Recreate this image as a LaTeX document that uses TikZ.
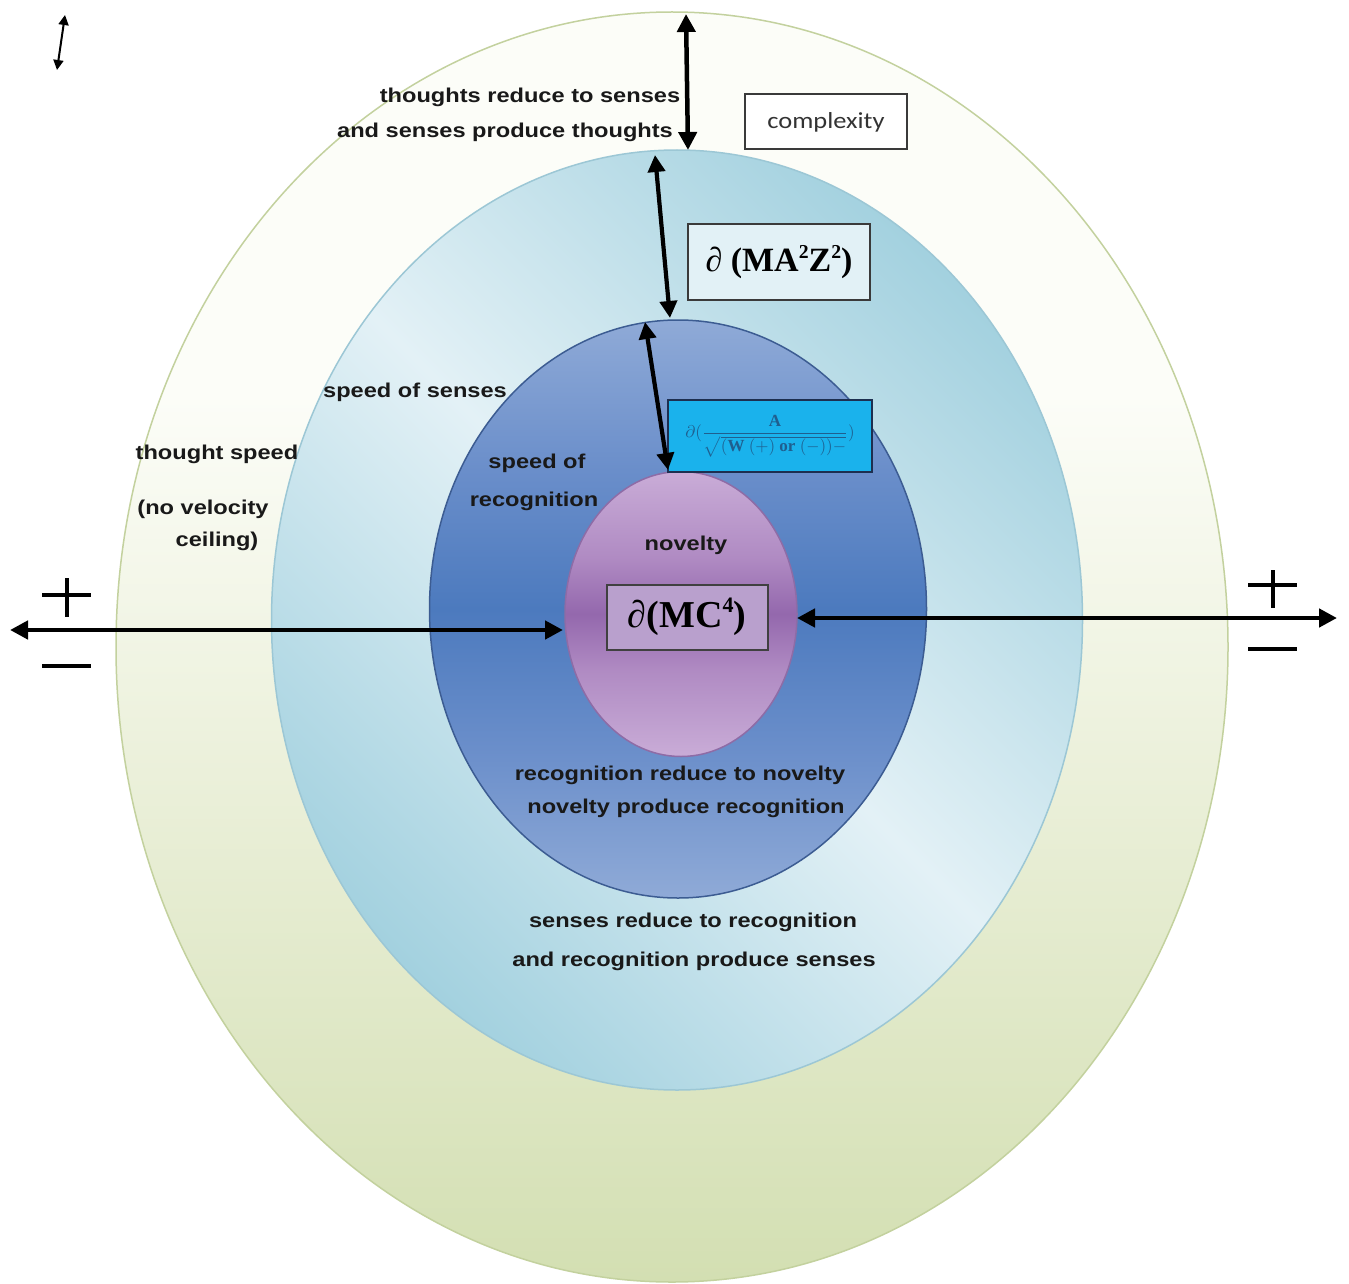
\documentclass[tikz,border=0pt]{standalone}
\usepackage{fontspec}
\setmainfont{Liberation Serif}
\newfontfamily\labfont[FakeStretch=1.18]{Liberation Sans}
\newfontfamily\cplxfont[FakeStretch=1.15]{Carlito}
\usetikzlibrary{shapes.geometric,arrows.meta}
\newcommand\mysup[1]{\raisebox{0.40em}{\scalebox{0.58}{#1}}}
\definecolor{og}{HTML}{D3DFB2}
\definecolor{om}{HTML}{EBF0DA}
\definecolor{ow}{HTML}{FCFDF8}
\definecolor{oline}{HTML}{C3D19E}
\definecolor{lbdark}{HTML}{A3D1DF}
\definecolor{lbpale}{HTML}{E3F1F6}
\definecolor{lbline}{HTML}{9CC7D5}
\definecolor{blight}{HTML}{8FAAD7}
\definecolor{bmid}{HTML}{6A8ECA}
\definecolor{bdark}{HTML}{4C7ABE}
\definecolor{bline}{HTML}{3C5C92}
\definecolor{plight}{HTML}{C9ACD7}
\definecolor{pmid}{HTML}{B08BC3}
\definecolor{pdark}{HTML}{9468AD}
\definecolor{pline}{HTML}{8E6CA6}
\definecolor{cyanbox}{HTML}{1AB2EC}
\definecolor{cyantext}{HTML}{1F5F8F}
\definecolor{navy}{HTML}{1D2F50}
\definecolor{boxline}{HTML}{3A3A3A}
\definecolor{mazfill}{HTML}{E2F1F6}
\definecolor{mcfill}{HTML}{B9A0CD}
\pgfdeclareverticalshading{outersh}{100bp}{color(0bp)=(og); color(25bp)=(og); color(45bp)=(om); color(60bp)=(ow); color(100bp)=(ow)}
\pgfdeclareverticalshading{lbsh}{100bp}{color(0bp)=(lbdark); color(25bp)=(lbdark); color(50bp)=(lbpale); color(75bp)=(lbdark); color(100bp)=(lbdark)}
\pgfdeclareverticalshading{bsh}{100bp}{color(0bp)=(blight); color(25bp)=(blight); color(38bp)=(bmid); color(50bp)=(bdark); color(62bp)=(bmid); color(75bp)=(blight); color(100bp)=(blight)}
\pgfdeclareverticalshading{psh}{100bp}{color(0bp)=(plight); color(25bp)=(plight); color(40bp)=(pmid); color(50bp)=(pdark); color(60bp)=(pmid); color(75bp)=(plight); color(100bp)=(plight)}
\tikzset{
  ring/.style={ellipse, inner sep=0pt, line width=1.5pt},
  lab/.style={font=\labfont\bfseries\fontsize{20}{24}\selectfont, inner sep=0pt, text=black!90},
  bigarrow/.style={line width=4.5pt, {Triangle[length=18pt,width=18pt]}-{Triangle[length=18pt,width=18pt]}},
  midarrow/.style={line width=4.2pt, {Triangle[length=17pt,width=17pt]}-{Triangle[length=17pt,width=17pt]}},
  smallarrow/.style={line width=2pt, {Triangle[length=10pt,width=10pt]}-{Triangle[length=10pt,width=10pt]}},
  signbar/.style={line width=4.5pt},
  fbox/.style={draw=boxline, line width=2pt, inner sep=0pt}
}
\begin{document}
\begin{tikzpicture}[x=1pt,y=-1pt]
\useasboundingbox[fill=white] (0,0) rectangle (1349,1284);
% rings
\node[ring, draw=oline, shading=outersh, minimum width=1112pt, minimum height=1270pt] (outer) at (672,647) {};
\node[ring, draw=lbline, shading=lbsh, shading angle=-45, minimum width=811pt, minimum height=940pt] (lblue) at (677,620) {};
\node[ring, draw=bline, shading=bsh, minimum width=497pt, minimum height=578pt] (blue) at (678,609) {};
\node[ring, draw=pline, shading=psh, minimum width=232pt, minimum height=285pt] (purple) at (681,614) {};
% boxes
\node[fbox, fill=white, minimum width=162pt, minimum height=55pt, font=\cplxfont\fontsize{23}{26}\selectfont, text=black!80] (cplx) at (826,122) {complexity};
\node[fbox, fill=mazfill, minimum width=182pt, minimum height=75pt, font=\bfseries\fontsize{34}{40}\selectfont] (maz) at (779,262) {∂ (MA\mysup{2}Z\mysup{2})};
\node[draw=navy, line width=2pt, fill=cyanbox, inner sep=0pt, minimum width=204pt, minimum height=72pt, text=cyantext] (cyf) at (770,436) {\scalebox{1.7}{\bfseries $\displaystyle\partial(\frac{\mathbf{A}}{\sqrt{(\mathbf{W}\ (+)\ \mathbf{or}\ (-))-}})$}};
\node[fbox, draw=black!75, fill=mcfill, minimum width=161pt, minimum height=65pt, font=\bfseries\fontsize{38}{44}\selectfont] (mc) at (687,617) {∂(MC\mysup{4})};
% labels
\node[lab] (t1) at (530,97) {thoughts reduce to senses};
\node[lab] (t2) at (505,132) {and senses produce thoughts};
\node[lab] (t3) at (415,392) {speed of senses};
\node[lab] (t4) at (217,454) {thought speed};
\node[lab] (t5) at (203,509) {(no velocity};
\node[lab] (t6) at (217,541) {ceiling)};
\node[lab] (t7) at (537,463) {speed of};
\node[lab] (t8) at (534,501) {recognition};
\node[lab] (t9) at (686,545) {novelty};
\node[lab] (t10) at (680,775) {recognition reduce to novelty};
\node[lab] (t11) at (686,808) {novelty produce recognition};
\node[lab] (t12) at (693,922) {senses reduce to recognition};
\node[lab] (t13) at (694,961) {and recognition produce senses};
% arrow endpoints
\coordinate (a1s) at (686,14);
\coordinate (a1e) at (688,150);
\coordinate (a2s) at (655,155);
\coordinate (a2e) at (670,318);
\coordinate (a3s) at (645,322);
\coordinate (a3e) at (668,470);
\coordinate (lt) at (10,630);
\coordinate (le) at (563,630);
\coordinate (re) at (797,618);
\coordinate (rt) at (1337,618);
\coordinate (ss) at (65,15);
\coordinate (se) at (57,70);
\draw[bigarrow] (a1s) -- (a1e);
\draw[midarrow] (a2s) -- (a2e);
\draw[midarrow] (a3s) -- (a3e);
\draw[bigarrow] (lt) -- (le);
\draw[bigarrow] (re) -- (rt);
\draw[smallarrow] (ss) -- (se);
% plus / minus signs
\draw[signbar] (42,595) -- (91,595) (67,578) -- (67,617);
\draw[signbar] (42,666) -- (91,666);
\draw[signbar] (1248,585) -- (1297,585) (1273,570) -- (1273,608);
\draw[signbar] (1248,649) -- (1297,649);
\end{tikzpicture}
\end{document}
